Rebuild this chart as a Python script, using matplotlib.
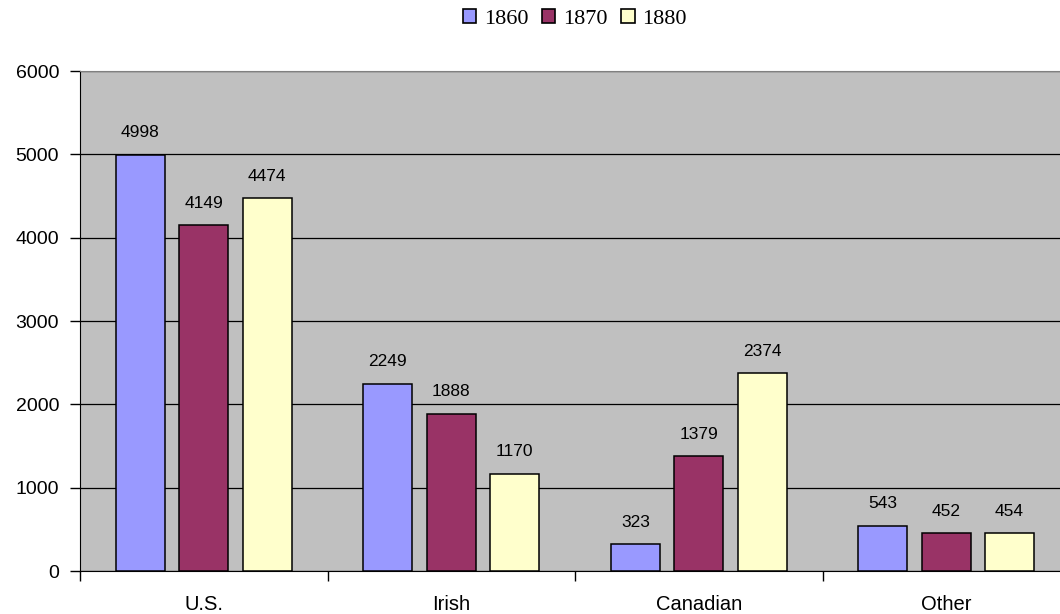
import numpy as np
import matplotlib
matplotlib.use('Agg')
import matplotlib.pyplot as plt
from matplotlib.patches import Patch

# chart data
categories = ['U.S.', 'Irish', 'Canadian', 'Other']
years = ['1860', '1870', '1880']
values_1860 = [4998, 2249, 323, 543]
values_1870 = [4149, 1888, 1379, 452]
values_1880 = [4474, 1170, 2374, 454]
y_ticks = [0, 1000, 2000, 3000, 4000, 5000, 6000]

colors = ['#9999FF', '#993366', '#FFFFCC']

plt.rcParams['font.family'] = ['Liberation Sans', 'DejaVu Sans']

fig = plt.figure(figsize=(10.6, 6.14), dpi=100)
ax = fig.add_axes([80 / 1060, 43 / 614, 990 / 1060, 500 / 614])
ax.set_facecolor('#C0C0C0')

x = np.arange(len(categories))
width = 0.198
step = 0.256
series = [values_1860, values_1870, values_1880]
for i, vals in enumerate(series):
    pos = x + (i - 1) * step
    bars = ax.bar(pos, vals, width, color=colors[i], edgecolor='black',
                  linewidth=1.1, zorder=3)
    for b, v in zip(bars, vals):
        ax.annotate(str(v), (b.get_x() + b.get_width() / 2, v),
                    xytext=(0, 15.8), textcoords='offset points',
                    ha='center', va='center', fontsize=12.5)

ax.set_xlim(-0.5, len(categories) - 0.5)
ax.set_ylim(0, 6000)
ax.set_yticks(y_ticks)
ax.set_yticklabels([str(t) for t in y_ticks], fontsize=14)
ax.yaxis.grid(True, color='black', linewidth=0.9, zorder=0)
ax.set_axisbelow(True)

# category boundary ticks, labels at centres
ax.set_xticks(np.arange(len(categories) + 1) - 0.5)
ax.set_xticklabels([])
ax.set_xticks(x, minor=True)
ax.set_xticklabels(categories, minor=True, fontsize=14.5)
ax.tick_params(axis='x', which='minor', length=0, pad=17)
ax.tick_params(axis='x', which='major', length=7, width=1, direction='out')
ax.tick_params(axis='y', length=7, width=1, direction='out', pad=8)

ax.spines['top'].set_color('#808080')
ax.spines['right'].set_color('#808080')
ax.spines['left'].set_color('black')
ax.spines['bottom'].set_color('black')

handles = [Patch(facecolor=c, edgecolor='black', linewidth=1.2) for c in colors]
fig.legend(handles, years, loc='center', bbox_to_anchor=(575 / 1060, 1 - 19 / 614),
           ncol=3, frameon=False, prop={'family': 'Liberation Serif', 'size': 16},
           handlelength=0.6, handleheight=0.6, handletextpad=0.36,
           columnspacing=0.6, borderpad=0.2)

fig.savefig('out.png', dpi=100)
